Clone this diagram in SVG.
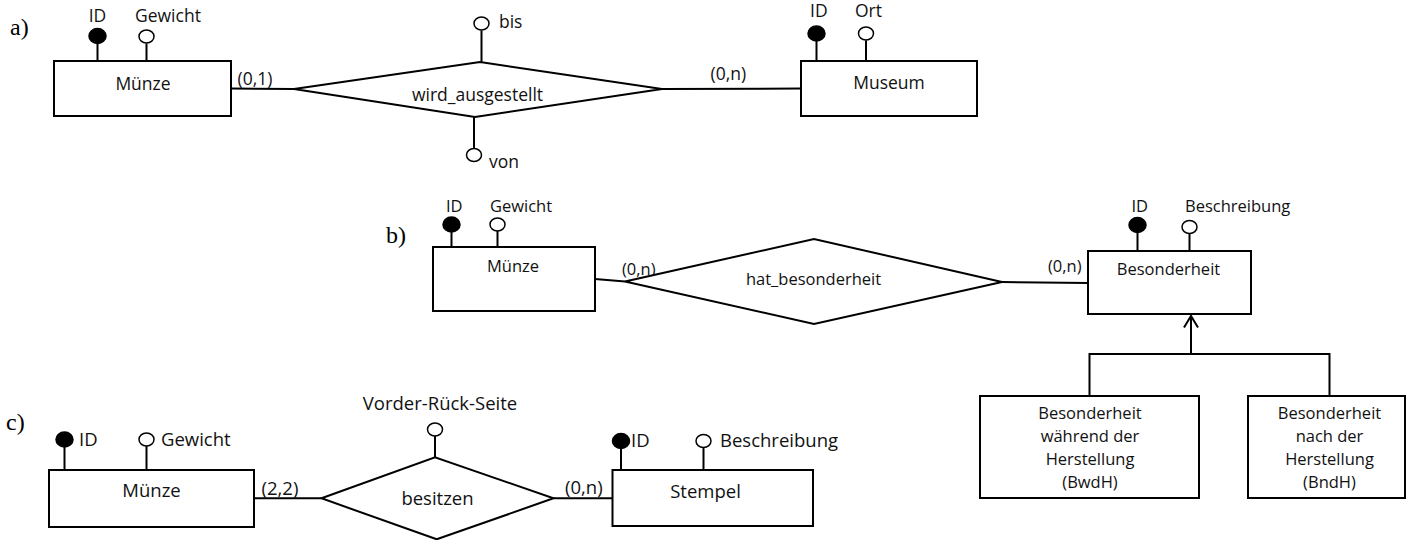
<svg xmlns="http://www.w3.org/2000/svg" width="1406" height="540" viewBox="0 0 1406 540">
  <style>
    .box { fill: #fff; stroke: #000; stroke-width: 2; }
    .rel { fill: #fff; stroke: #000; stroke-width: 2; }
    .ln { fill: none; stroke: #000; stroke-width: 2; }
    .key { fill: #000; stroke: #000; stroke-width: 1.5; }
    .att { fill: #fff; stroke: #000; stroke-width: 1.5; }
    text { font-family: "Open Sans", "Liberation Sans", sans-serif; fill: #111; }
    .sa { font-size: 17.5px; }
    .sb { font-size: 16.5px; }
    .sc { font-size: 18.5px; }
    .mid { text-anchor: middle; }
    .part { font-family: "Liberation Serif", serif; font-size: 24px; fill: #000; }
  </style>

  <!-- part labels -->
  <text class="part" x="10" y="35">a)</text>
  <text class="part" x="386" y="243">b)</text>
  <text class="part" x="6" y="430">c)</text>

  <!-- connectors -->
  <g id="connectors">
    <!-- a -->
    <line class="ln" x1="231" y1="88.5" x2="294" y2="89"/>
    <line class="ln" x1="662" y1="89" x2="801" y2="88.5"/>
    <!-- b -->
    <line class="ln" x1="595" y1="279" x2="625" y2="281.5"/>
    <line class="ln" x1="1002" y1="282" x2="1088" y2="283"/>
    <!-- b: specialisation -->
    <line class="ln" x1="1191" y1="354" x2="1191" y2="316"/>
    <polyline class="ln" points="1184,327.5 1191,316 1198,327.5"/>
    <polyline class="ln" points="1089.5,396 1089.5,354 1329.5,354 1329.5,396"/>
    <!-- c -->
    <line class="ln" x1="254" y1="498.3" x2="321.5" y2="498.3"/>
    <line class="ln" x1="553.5" y1="498.3" x2="612.5" y2="498.3"/>
    <!-- cardinalities -->
    <text class="sa" x="237.5" y="85">(0,1)</text>
    <text class="sa" x="710.5" y="80">(0,n)</text>
    <text class="sb" x="622" y="275">(0,n)</text>
    <text class="sb" x="1048" y="272">(0,n)</text>
    <text class="sc" x="261.5" y="495">(2,2)</text>
    <text class="sc" x="565" y="494">(0,n)</text>
  </g>

  <!-- a) -->
  <g id="a-muenze">
    <line class="ln" x1="97.5" y1="43" x2="97.5" y2="61"/>
    <ellipse class="key" cx="97.5" cy="36" rx="8.5" ry="7.5"/>
    <text class="sa mid" x="97.5" y="22">ID</text>
    <line class="ln" x1="146.5" y1="43.5" x2="146.5" y2="61"/>
    <ellipse class="att" cx="146.5" cy="36.5" rx="7.5" ry="6.5"/>
    <text class="sa" x="135" y="22">Gewicht</text>
    <rect class="box" x="54" y="61" width="177" height="55"/>
    <text class="sa mid" x="143" y="89.5">Münze</text>
  </g>
  <g id="a-wird-ausgestellt">
    <line class="ln" x1="481.5" y1="30.5" x2="481.5" y2="62"/>
    <ellipse class="att" cx="481.5" cy="23.5" rx="7.5" ry="6.5"/>
    <text class="sa" x="499" y="28">bis</text>
    <line class="ln" x1="474" y1="117" x2="474" y2="148"/>
    <ellipse class="att" cx="474" cy="155" rx="7.5" ry="6.5"/>
    <text class="sa" x="489" y="168">von</text>
    <polygon class="rel" points="294,89 480,62 662,89 475,117"/>
    <text class="sa mid" x="477.5" y="100.5">wird_ausgestellt</text>
  </g>
  <g id="a-museum">
    <line class="ln" x1="816.5" y1="41" x2="816.5" y2="61"/>
    <ellipse class="key" cx="816.5" cy="33.5" rx="8.5" ry="7.5"/>
    <text class="sa" x="810" y="17">ID</text>
    <line class="ln" x1="866" y1="40.5" x2="866" y2="61"/>
    <ellipse class="att" cx="866" cy="33.5" rx="7.5" ry="6.5"/>
    <text class="sa" x="855" y="17">Ort</text>
    <rect class="box" x="801" y="61" width="176" height="55"/>
    <text class="sa mid" x="889" y="88.5">Museum</text>
  </g>

  <!-- b) -->
  <g id="b-muenze">
    <line class="ln" x1="451.5" y1="232" x2="451.5" y2="247"/>
    <ellipse class="key" cx="451.5" cy="224.5" rx="8.5" ry="7.5"/>
    <text class="sb" x="446" y="212">ID</text>
    <line class="ln" x1="497.5" y1="231" x2="497.5" y2="247"/>
    <ellipse class="att" cx="497.5" cy="224.5" rx="7.5" ry="6.5"/>
    <text class="sb" x="490" y="212">Gewicht</text>
    <rect class="box" x="433" y="247" width="162" height="64"/>
    <text class="sb mid" x="513" y="272">Münze</text>
  </g>
  <g id="b-hat-besonderheit">
    <polygon class="rel" points="625,281.5 814,239 1002,282 814,324"/>
    <text class="sb mid" x="813.5" y="285">hat_besonderheit</text>
  </g>
  <g id="b-besonderheit">
    <line class="ln" x1="1137.5" y1="232" x2="1137.5" y2="251"/>
    <ellipse class="key" cx="1137.5" cy="225" rx="8.5" ry="7.5"/>
    <text class="sb" x="1131.5" y="211.5">ID</text>
    <line class="ln" x1="1189.5" y1="234" x2="1189.5" y2="251"/>
    <ellipse class="att" cx="1189.5" cy="227" rx="7.5" ry="6.5"/>
    <text class="sb" x="1185" y="212">Beschreibung</text>
    <rect class="box" x="1088" y="251" width="163" height="63"/>
    <text class="sb mid" x="1168.5" y="275">Besonderheit</text>
  </g>
  <g id="b-bwdh">
    <rect class="box" x="980" y="396" width="219" height="102"/>
    <text class="sb mid" x="1090" y="419">Besonderheit</text>
    <text class="sb mid" x="1090" y="442">während der</text>
    <text class="sb mid" x="1090" y="465">Herstellung</text>
    <text class="sb mid" x="1090" y="488">(BwdH)</text>
  </g>
  <g id="b-bndh">
    <rect class="box" x="1248" y="396" width="157" height="102"/>
    <text class="sb mid" x="1329.5" y="419">Besonderheit</text>
    <text class="sb mid" x="1329.5" y="442">nach der</text>
    <text class="sb mid" x="1329.5" y="465">Herstellung</text>
    <text class="sb mid" x="1329.5" y="488">(BndH)</text>
  </g>

  <!-- c) -->
  <g id="c-muenze">
    <line class="ln" x1="64.5" y1="447" x2="64.5" y2="470"/>
    <ellipse class="key" cx="64.5" cy="439.5" rx="8.5" ry="7.5"/>
    <text class="sc" x="79" y="446">ID</text>
    <line class="ln" x1="146.5" y1="446" x2="146.5" y2="470"/>
    <ellipse class="att" cx="146.5" cy="439.5" rx="7.5" ry="6.5"/>
    <text class="sc" x="161" y="446">Gewicht</text>
    <rect class="box" x="49" y="470" width="205" height="57"/>
    <text class="sc mid" x="151.5" y="497">Münze</text>
  </g>
  <g id="c-besitzen">
    <line class="ln" x1="435" y1="436" x2="435" y2="457.5"/>
    <ellipse class="att" cx="435" cy="429.5" rx="7.5" ry="6.5"/>
    <text class="sc mid" x="440" y="410">Vorder-Rück-Seite</text>
    <polygon class="rel" points="321.5,498.3 435,457.3 553.5,498.3 436.7,539.3"/>
    <text class="sc mid" x="437.5" y="505">besitzen</text>
  </g>
  <g id="c-stempel">
    <line class="ln" x1="621" y1="448.5" x2="621" y2="470"/>
    <ellipse class="key" cx="621" cy="441" rx="8.5" ry="7.5"/>
    <text class="sc" x="631" y="447">ID</text>
    <line class="ln" x1="703.5" y1="447.5" x2="703.5" y2="470"/>
    <ellipse class="att" cx="703.5" cy="441" rx="7.5" ry="6.5"/>
    <text class="sc" x="720" y="447">Beschreibung</text>
    <rect class="box" x="612.5" y="470" width="200.5" height="56"/>
    <text class="sc mid" x="705.5" y="498">Stempel</text>
  </g>
</svg>
